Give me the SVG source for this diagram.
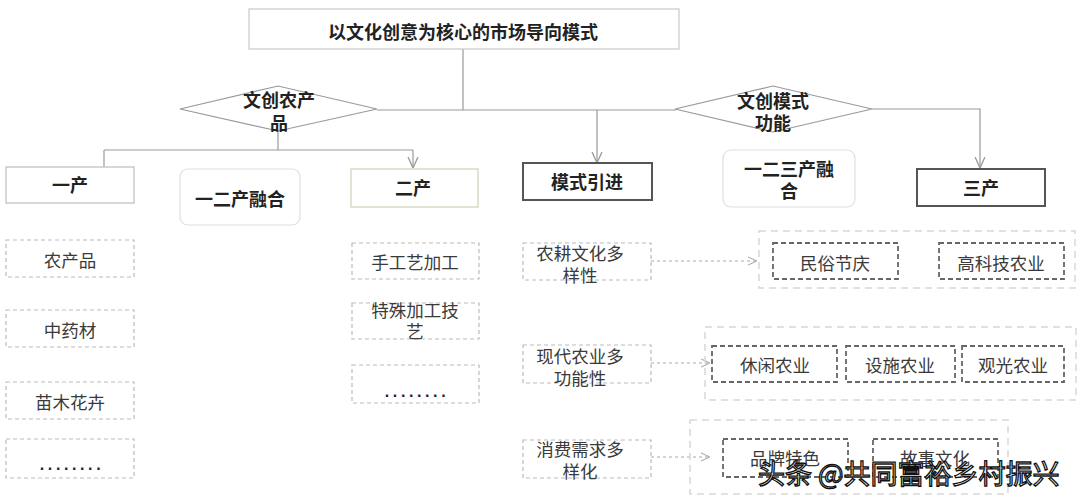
<svg xmlns="http://www.w3.org/2000/svg" width="1080" height="502" viewBox="0 0 1080 502">
<style>
text{font-family:"Noto Sans CJK SC","Liberation Sans",sans-serif;text-anchor:middle;dominant-baseline:central}
.b{font-weight:700;font-size:18px;fill:#222}
.r{font-weight:400;font-size:17.5px;fill:#3a3a3a}
.line{fill:none;stroke:#9a9a9a;stroke-width:1.2}
.dline{fill:none;stroke:#aaa;stroke-width:1.2;stroke-dasharray:3 3}
.leaf{fill:#fff;stroke:#bbb;stroke-width:1.2;stroke-dasharray:4 3}
.inner{fill:#fff;stroke:#666;stroke-width:1.8;stroke-dasharray:5 3}
.cont{fill:none;stroke:#d8d8d8;stroke-width:1.5;stroke-dasharray:7 5}
.soft{fill:#fff;stroke:#e0e0e0;stroke-width:1.2}
.dark{fill:#fff;stroke:#555;stroke-width:2}
.dots{font-family:"Liberation Sans",sans-serif;font-weight:700;font-size:16px;fill:#222;letter-spacing:3.6px}
</style>
<defs>
<marker id="ah" viewBox="0 0 10 10" refX="10" refY="5" markerUnits="userSpaceOnUse" markerWidth="11" markerHeight="12" orient="auto">
<path d="M0,0.5 L10,5 L0,9.5" fill="none" stroke="#9a9a9a" stroke-width="1.2"/>
</marker>
<marker id="ahd" viewBox="0 0 10 10" refX="10" refY="5" markerUnits="userSpaceOnUse" markerWidth="9" markerHeight="11" orient="auto">
<path d="M0,0.5 L10,5 L0,9.5" fill="none" stroke="#aaa" stroke-width="1.2"/>
</marker>
</defs>
<rect width="1080" height="502" fill="#fff"/>

<g id="connectors">
<path class="line" d="M463,49 V110"/>
<path class="line" d="M377,110 H676"/>
<path class="line" d="M597,110 V163" marker-end="url(#ah)"/>
<path class="line" d="M278,131 V150"/>
<path class="line" d="M104,150 H413"/>
<path class="line" d="M104,150 V167"/>
<path class="line" d="M413,150 V168" marker-end="url(#ah)"/>
<path class="line" d="M872,109 H980 V168" marker-end="url(#ah)"/>
<path class="dline" d="M651,261 H757" marker-end="url(#ahd)"/>
<path class="dline" d="M651,363 H710" marker-end="url(#ahd)"/>
<path class="dline" d="M651,457 H710" marker-end="url(#ahd)"/>
</g>

<g id="title">
<rect x="249" y="9" width="430" height="40" fill="#fff" stroke="#c8c8c8" stroke-width="1.2"/>
<text class="b" x="463" y="31">以文化创意为核心的市场导向模式</text>
</g>

<g id="diamond1">
<polygon points="180,109 278,86 377,109 278,131" fill="#fff" stroke="#999" stroke-width="1.2"/>
<text class="b" x="279" y="99">文创农产</text>
<text class="b" x="279" y="122">品</text>
</g>

<g id="diamond2">
<polygon points="675,109 773,86 872,109 773,132" fill="#fff" stroke="#999" stroke-width="1.2"/>
<text class="b" x="773" y="100">文创模式</text>
<text class="b" x="773" y="122">功能</text>
</g>

<g id="yichan">
<rect x="6" y="167" width="128" height="36" fill="#fff" stroke="#bdbdbd" stroke-width="1.2"/>
<text class="b" x="70" y="184">一产</text>
</g>

<g id="yierchan">
<rect x="180" y="169" width="120" height="56" rx="8" class="soft"/>
<text class="b" x="240" y="198">一二产融合</text>
</g>

<g id="erchan">
<rect x="351" y="169" width="127" height="38" fill="#fff" stroke="#d6dbc2" stroke-width="1.5"/>
<text class="b" x="413" y="187">二产</text>
</g>

<g id="moshi">
<rect x="523" y="163" width="129" height="37" class="dark"/>
<text class="b" x="587" y="181">模式引进</text>
</g>

<g id="yiersan">
<rect x="723" y="150" width="132" height="57" rx="8" class="soft"/>
<text class="b" x="789" y="168">一二三产融</text>
<text class="b" x="789" y="190">合</text>
</g>

<g id="sanchan">
<rect x="917" y="169" width="128" height="37" class="dark"/>
<text class="b" x="981" y="187">三产</text>
</g>

<g id="l1"><rect x="6" y="240" width="128" height="37" class="leaf"/><text class="r" x="70" y="259">农产品</text></g>
<g id="l2"><rect x="6" y="310" width="128" height="37" class="leaf"/><text class="r" x="70" y="329">中药材</text></g>
<g id="l3"><rect x="6" y="382" width="128" height="37" class="leaf"/><text class="r" x="70" y="401">苗木花卉</text></g>
<g id="l4"><rect x="6" y="439" width="128" height="39" class="leaf"/><text class="dots" x="72" y="464">........</text></g>

<g id="m1"><rect x="352" y="243" width="127" height="36" class="leaf"/><text class="r" x="415" y="261">手工艺加工</text></g>
<g id="m2"><rect x="352" y="303" width="127" height="36" class="leaf"/><text class="r" x="415" y="309">特殊加工技</text><text class="r" x="415" y="330">艺</text></g>
<g id="m3"><rect x="352" y="365" width="127" height="38" class="leaf"/><text class="dots" x="417" y="391">........</text></g>

<g id="r1"><rect x="523" y="243" width="128" height="37" class="leaf"/><text class="r" x="580" y="252">农耕文化多</text><text class="r" x="580" y="274">样性</text></g>
<g id="r2"><rect x="523" y="345" width="128" height="38" class="leaf"/><text class="r" x="580" y="355">现代农业多</text><text class="r" x="580" y="377">功能性</text></g>
<g id="r3"><rect x="523" y="440" width="128" height="38" class="leaf"/><text class="r" x="580" y="448">消费需求多</text><text class="r" x="580" y="470">样化</text></g>

<g id="c1">
<rect x="759" y="231" width="316" height="57" class="cont"/>
<g id="c1a"><rect x="773" y="243" width="125" height="36" class="inner"/><text class="r" x="835" y="262">民俗节庆</text></g>
<g id="c1b"><rect x="939" y="243" width="125" height="36" class="inner"/><text class="r" x="1001" y="262">高科技农业</text></g>
</g>

<g id="c2">
<rect x="705" y="327" width="371" height="73" class="cont"/>
<g id="c2a"><rect x="712" y="346" width="125" height="36" class="inner"/><text class="r" x="775" y="364">休闲农业</text></g>
<g id="c2b"><rect x="846" y="346" width="109" height="36" class="inner"/><text class="r" x="900" y="364">设施农业</text></g>
<g id="c2c"><rect x="962" y="346" width="102" height="36" class="inner"/><text class="r" x="1013" y="364">观光农业</text></g>
</g>

<g id="c3">
<rect x="690" y="420" width="318" height="74" class="cont"/>
<g id="c3a"><rect x="723" y="439" width="125" height="38" class="inner"/><text class="r" x="785" y="457">品牌特色</text></g>
<g id="c3b"><rect x="873" y="439" width="125" height="38" class="inner"/><text class="r" x="935" y="457">故事文化</text></g>
</g>

<text x="758" y="472" style="text-anchor:start;font-size:27px;font-weight:400;fill:#fff;stroke:#111;stroke-width:1.3">头条 @共同富裕乡村振兴</text>
</svg>
